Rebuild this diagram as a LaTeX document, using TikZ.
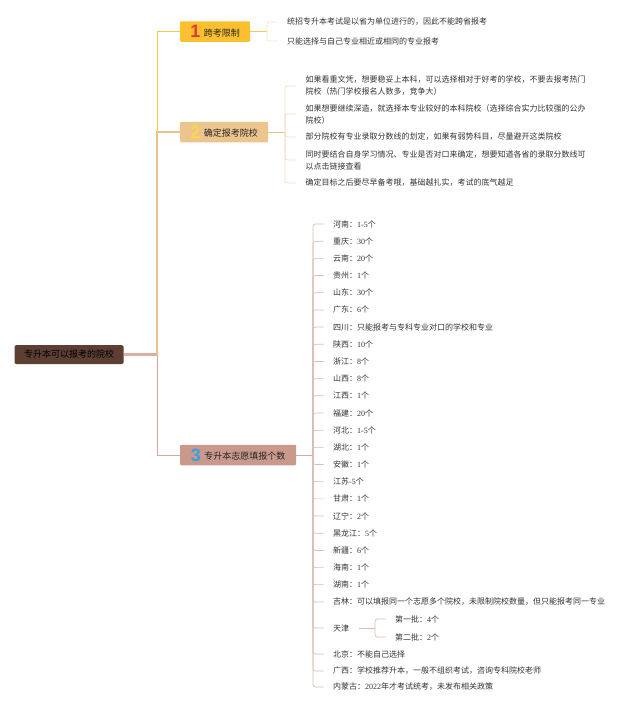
\documentclass[tikz,border=0pt]{standalone}
\usepackage{fontspec}
\setmainfont{Noto Sans CJK SC}
\newfontfamily\numfont{Liberation Serif}
\newfontfamily\bignum{Liberation Sans}
\newcommand\cnt[1]{{\numfont #1}}
\newcommand\topicnum[2]{\raisebox{-1.5pt}{\bignum\bfseries\fontsize{18}{18}\selectfont\color{#1}#2}\hspace{3.5pt}}
\definecolor{rootbrown}{HTML}{5D3E32}
\definecolor{boxone}{HTML}{FBC02D}
\definecolor{boxtwo}{HTML}{EBC48E}
\definecolor{boxthree}{HTML}{C99A8C}
\definecolor{numone}{HTML}{E53935}
\definecolor{numtwo}{HTML}{F8D84A}
\definecolor{numthree}{HTML}{3A9EE0}
\definecolor{lineroot}{HTML}{D9B09C}
\definecolor{lineone}{HTML}{F5C84C}
\definecolor{linetwo}{HTML}{EAC18C}
\definecolor{linethree}{HTML}{D4A89C}
\definecolor{twigone}{HTML}{F9E4B4}
\definecolor{twigtwo}{HTML}{F3DDBF}
\definecolor{twigthree}{HTML}{DDBCB3}
\definecolor{leaftext}{HTML}{333333}
\tikzset{
  rootbox/.style={fill=rootbrown, rounded corners=1.5pt, minimum width=109pt, minimum height=19pt,
    inner sep=0pt, font=\fontsize{9}{11}\selectfont, text=black},
  topicbox/.style={anchor=west, rounded corners=1pt, minimum height=20.5pt, inner xsep=2pt, inner ysep=0pt,
    font=\fontsize{9}{11}\selectfont, text=black!85},
  leaf/.style={anchor=west, inner xsep=9.5pt, inner ysep=1pt, align=left,
    font=\fontsize{8}{12}\selectfont, text=leaftext},
  twig/.style={line width=0.7pt, rounded corners=2.5pt},
}
\begin{document}
\begin{tikzpicture}[x=1pt, y=-1pt]
\useasboundingbox (0,0) rectangle (640,710);

% root and main topics
\node[rootbox] (root) at (69,354.5) {专升本可以报考的院校};
\node[topicbox, fill=boxone, minimum width=70pt] (t1) at (180,31.5) {\topicnum{numone}{1}跨考限制};
\node[topicbox, fill=boxtwo, minimum width=88pt] (t2) at (180,132) {\topicnum{numtwo}{2}确定报考院校};
\node[topicbox, fill=boxthree, minimum width=116pt] (t3) at (180,455) {\topicnum{numthree}{3}专升本志愿填报个数};

\coordinate (hub) at (157,354.5);
\coordinate (hubtwo) at (157,132);
\draw[lineroot, line width=2.8pt] (root.east) -- (hub);
\draw[linetwo, line width=2.8pt] (hub) -- (hubtwo) -- (t2.west);
\draw[lineone, line width=1pt] (hubtwo) |- (t1.west);
\draw[linethree, line width=1pt] (hub) |- (t3.west);

% topic 1
\node[leaf] (a1) at (277.5,22) {统招专升本考试是以省为单位进行的，因此不能跨省报考};
\node[leaf] (a2) at (277.5,41) {只能选择与自己专业相近或相同的专业报考};
\coordinate (s1) at (267,31.5);
\draw[lineone, line width=0.8pt] (t1.east) -- (s1);
\foreach \n in {a1,a2}
  \draw[twig, twigone] (s1) |- (\n.west);

% topic 2
\node[leaf] (b1) at (296,86) {如果看重文凭，想要稳妥上本科，可以选择相对于好考的学校，不要去报考热门\\院校（热门学校报名人数多，竞争大）};
\node[leaf] (b2) at (296,114) {如果想要继续深造，就选择本专业较好的本科院校（选择综合实力比较强的公办\\院校）};
\node[leaf] (b3) at (296,137) {部分院校有专业录取分数线的划定，如果有弱势科目，尽量避开这类院校};
\node[leaf] (b4) at (296,160) {同时要结合自身学习情况、专业是否对口来确定，想要知道各省的录取分数线可\\以点击链接查看};
\node[leaf] (b5) at (296,183) {确定目标之后要尽早备考哦，基础越扎实，考试的底气越足};
\coordinate (s2) at (285,132);
\draw[linetwo, line width=0.8pt] (t2.east) -- (s2);
\foreach \n in {b1,b2,b3,b4,b5}
  \draw[twig, twigtwo] (s2) |- (\n.west);

% topic 3
\coordinate (s3) at (313,455);
\draw[linethree, line width=0.8pt] (t3.east) -- (s3);
\foreach \i/\txt in {1/{河南：\cnt{1-5}个}, 2/{重庆：\cnt{30}个}, 3/{云南：\cnt{20}个}, 4/{贵州：\cnt{1}个},
    5/{山东：\cnt{30}个}, 6/{广东：\cnt{6}个}, 7/{四川：只能报考与专科专业对口的学校和专业}, 8/{陕西：\cnt{10}个},
    9/{浙江：\cnt{8}个}, 10/{山西：\cnt{8}个}, 11/{江西：\cnt{1}个}, 12/{福建：\cnt{20}个}, 13/{河北：\cnt{1-5}个},
    14/{湖北：\cnt{1}个}, 15/{安徽：\cnt{1}个}, 16/{江苏\cnt{-5}个}, 17/{甘肃：\cnt{1}个}, 18/{辽宁：\cnt{2}个},
    19/{黑龙江：\cnt{5}个}, 20/{新疆：\cnt{6}个}, 21/{海南：\cnt{1}个}, 22/{湖南：\cnt{1}个},
    23/{吉林：可以填报同一个志愿多个院校，未限制院校数量，但只能报考同一专业}} {
  \node[leaf] (p\i) at (323.5,{224+17.18*(\i-1)}) {\txt};
  \draw[twig, twigthree] (s3) |- (p\i.west);
}
\node[leaf] (tj) at (323.5,628) {天津};
\node[leaf] (bj) at (323.5,654) {北京：不能自己选择};
\node[leaf] (gx) at (323.5,671) {广西：学校推荐升本，一般不组织考试，咨询专科院校老师};
\node[leaf] (nm) at (323.5,687) {内蒙古：\cnt{2022}年才考试统考，未发布相关政策};
\foreach \n in {tj,bj,gx,nm}
  \draw[twig, twigthree] (s3) |- (\n.west);

% tianjin batches
\node[leaf] (tj1) at (385.5,619) {第一批：\cnt{4}个};
\node[leaf] (tj2) at (385.5,637) {第二批：\cnt{2}个};
\coordinate (s4) at (375,628);
\draw[twig, twigthree] (tj.east) -- (s4);
\foreach \n in {tj1,tj2}
  \draw[twig, twigthree] (s4) |- (\n.west);
\end{tikzpicture}
\end{document}
